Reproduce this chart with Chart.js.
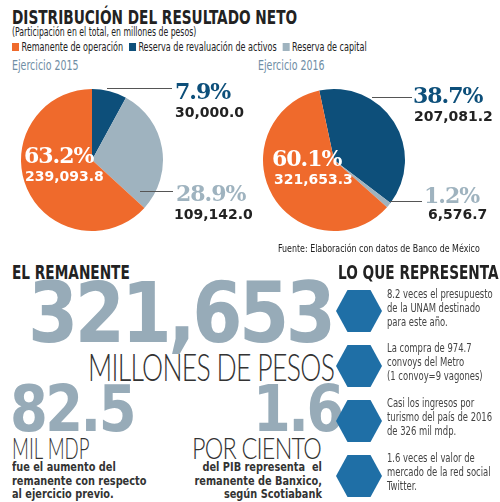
<!DOCTYPE html>
<html>
<head>
<meta charset="utf-8">
<script src="https://cdn.jsdelivr.net/npm/chart.js@4"></script>
<style>
  body { margin: 0; width: 500px; height: 502px; background: #fff; position: relative; overflow: hidden; font-family: "DejaVu Sans Condensed", sans-serif; color: #222; }
  .abs { position: absolute; white-space: nowrap; transform-origin: left top; }
  .pct { font-family: "DejaVu Serif", serif; font-weight: bold; font-size: 22px; letter-spacing: -1px; }
  .val { font-family: "DejaVu Sans", sans-serif; font-weight: bold; font-size: 14px; }
  .line { position: absolute; height: 1px; background: #555; }
  .big { font-family: "DejaVu Sans", sans-serif; font-weight: bold; color: #97abb8; letter-spacing: -3px; line-height: 1; }
  .thin { font-family: "Lato", sans-serif; font-weight: 300; color: #333; line-height: 1; }
  .para { font-family: "DejaVu Sans", sans-serif; font-weight: bold; font-size: 11.5px; line-height: 13.5px; color: #333; }
  .hex { position: absolute; width: 46px; height: 42px; background: #1f6fa6; clip-path: polygon(25% 0, 75% 0, 100% 50%, 75% 100%, 25% 100%, 0 50%); }
  .note { font-size: 12.5px; line-height: 14px; color: #444; transform: scaleX(0.75); }
  canvas { position: absolute; }
</style>
</head>
<body>
<div class="abs" style="left:12px;top:5px;font-size:20px;font-weight:bold;transform:scaleX(0.76)">DISTRIBUCIÓN DEL RESULTADO NETO</div>
<div class="abs" style="left:12px;top:25px;font-size:11.5px;transform:scaleX(0.75)">(Participación en el total, en millones de pesos)</div>
<div class="abs" style="left:12px;top:40px;font-size:11.5px;transform:scaleX(0.78)">
  <span style="display:inline-block;width:9px;height:8px;background:#ef6a2c"></span> Remanente de operación
  <span style="display:inline-block;width:9px;height:8px;background:#0d4f7a;margin-left:4px"></span> Reserva de revaluación de activos
  <span style="display:inline-block;width:9px;height:8px;background:#9fb3bf;margin-left:4px"></span> Reserva de capital
</div>
<div class="abs" style="left:12px;top:57px;font-size:14px;color:#6f8ea5;transform:scaleX(0.75)">Ejercicio 2015</div>
<div class="abs" style="left:258px;top:57px;font-size:14px;color:#6f8ea5;transform:scaleX(0.75)">Ejercicio 2016</div>

<canvas id="pie2015" style="left:17px;top:85px" width="150" height="150"></canvas>
<canvas id="pie2016" style="left:259px;top:85px" width="150" height="150"></canvas>

<div class="line" style="left:107px;top:88px;width:65px"></div>
<div class="line" style="left:140px;top:191px;width:33px"></div>
<div class="line" style="left:372px;top:97px;width:40px"></div>
<div class="line" style="left:390px;top:201px;width:32px"></div>

<div class="abs pct" style="left:175px;top:78px;color:#0d4f7a">7.9%</div>
<div class="abs val" style="left:175px;top:104px">30,000.0</div>
<div class="abs pct" style="left:176px;top:180px;color:#9fb3bf">28.9%</div>
<div class="abs val" style="left:174px;top:206px">109,142.0</div>
<div class="abs pct" style="left:24px;top:142px;color:#fff">63.2%</div>
<div class="abs val" style="left:25px;top:168px;color:#fff">239,093.8</div>

<div class="abs pct" style="left:413px;top:82px;color:#0d4f7a">38.7%</div>
<div class="abs val" style="left:414px;top:108px">207,081.2</div>
<div class="abs pct" style="left:272px;top:145px;color:#fff">60.1%</div>
<div class="abs val" style="left:274px;top:171px;color:#fff">321,653.3</div>
<div class="abs pct" style="left:424px;top:182px;color:#9fb3bf">1.2%</div>
<div class="abs val" style="left:428px;top:206px">6,576.7</div>

<div class="abs" style="left:278px;top:242px;font-size:11px;transform:scaleX(0.8)">Fuente: Elaboración con datos de Banco de México</div>

<div class="abs" style="left:12px;top:261px;font-size:19px;font-weight:bold;transform:scaleX(0.8)">EL REMANENTE</div>
<div class="abs big" style="left:28px;top:272px;font-size:83px;letter-spacing:-4px;transform:scaleX(0.87)">321,653</div>
<div class="abs thin" style="left:88px;top:347px;font-size:38px;letter-spacing:-1px;transform:scaleX(0.7)">MILLONES DE PESOS</div>
<div class="abs big" style="left:10px;top:377px;font-size:64px;transform:scaleX(0.85)">82.5</div>
<div class="abs big" style="left:253px;top:377px;font-size:64px;transform:scaleX(0.85)">1.6</div>
<div class="abs thin" style="left:12px;top:432px;font-size:30px;transform:scaleX(0.62)">MIL MDP</div>
<div class="abs thin" style="left:192px;top:432px;font-size:30px;letter-spacing:-1px;transform:scaleX(0.78)">POR CIENTO</div>
<div class="abs para" style="left:12px;top:461px;transform:scaleX(0.85)">fue el aumento del<br>remanente con respecto<br>al ejercicio previo.</div>
<div class="abs para" style="right:178px;top:461px;text-align:right;transform-origin:right top;transform:scaleX(0.85)">del PIB representa&nbsp; el<br>remanente de Banxico,<br>según Scotiabank</div>

<div class="abs" style="left:338px;top:261px;font-size:19px;font-weight:bold;transform:scaleX(0.8)">LO QUE REPRESENTA</div>
<div class="hex" style="left:336px;top:290px"></div>
<div class="hex" style="left:336px;top:345px"></div>
<div class="hex" style="left:336px;top:400px"></div>
<div class="hex" style="left:336px;top:455px"></div>
<div class="abs note" style="left:387px;top:287px;">8.2 veces el presupuesto<br>de la UNAM destinado<br>para este año.</div>
<div class="abs note" style="left:387px;top:341px;">La compra de 974.7<br>convoys del Metro<br>(1 convoy=9 vagones)</div>
<div class="abs note" style="left:387px;top:396px;">Casi los ingresos por<br>turismo del país de 2016<br>de 326 mil mdp.</div>
<div class="abs note" style="left:387px;top:451px;">1.6 veces el valor de<br>mercado de la red social<br>Twitter.</div>

<script>
// series order clockwise from top: revaluación, capital, operación
const categories = ["Reserva de revaluación de activos", "Reserva de capital", "Remanente de operación"];
const values2015 = [30000.0, 109142.0, 239093.8];
const values2016 = [207081.2, 6576.7, 321653.3];
const sliceColors = ["#0d4f7a", "#9fb3bf", "#ef6a2c"];

function makePie(id, values, rotation) {
  new Chart(document.getElementById(id), {
    type: "pie",
    data: {
      labels: categories,
      datasets: [{ data: values, backgroundColor: sliceColors, borderWidth: 0 }]
    },
    options: {
      responsive: false,
      animation: false,
      rotation: rotation,
      layout: { padding: 4 },
      plugins: { legend: { display: false }, tooltip: { enabled: false } }
    }
  });
}

makePie("pie2015", values2015, 0);
makePie("pie2016", values2016, -12);
</script>
</body>
</html>
